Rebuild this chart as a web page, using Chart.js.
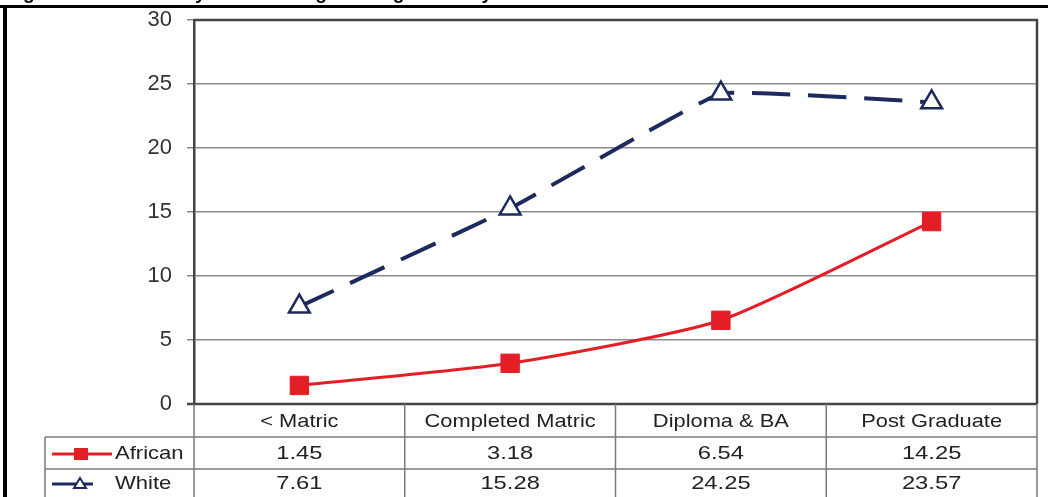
<!DOCTYPE html>
<html>
<head>
<meta charset="utf-8">
<script src="https://cdn.jsdelivr.net/npm/chart.js@4/dist/chart.umd.min.js"></script>
<style>
html,body{margin:0;padding:0;background:#fff;}
#wrap{width:1048px;height:497px;position:relative;}
</style>
</head>
<body>
<div id="wrap"><canvas id="c" width="1048" height="497"></canvas></div>
<script>
const titleText = "Figure 3: Mean Hourly Real Earnings in Wage Jobs by Education and Race in South Africa: 2005";
const categories = ["< Matric", "Completed Matric", "Diploma & BA", "Post Graduate"];
const seriesNames = ["African", "White"];
const africanValues = [1.45, 3.18, 6.54, 14.25];
const whiteValues = [7.61, 15.28, 24.25, 23.57];
const yTicks = [0, 5, 10, 15, 20, 25, 30];

const RED = '#e41e26';
const NAVY = '#1c2a5e';
const FONT = "'Liberation Sans', Arial, Helvetica, sans-serif";

function stretchedText(ctx, text, cx, cy, sx, size, align) {
  ctx.save();
  ctx.translate(cx, cy);
  ctx.scale(sx, 1);
  ctx.font = size + 'px ' + FONT;
  ctx.textAlign = align || 'center';
  ctx.textBaseline = 'middle';
  ctx.fillText(text, 0, 0);
  ctx.restore();
}

const framePlugin = {
  id: 'framePlugin',
  beforeDraw(chart) {
    const ctx = chart.ctx;
    ctx.save();
    ctx.fillStyle = '#fff';
    ctx.fillRect(0, 0, chart.width, chart.height);
    ctx.restore();
  },
  afterDraw(chart) {
    const ctx = chart.ctx;
    const a = chart.chartArea;
    const xs = chart.scales.x;
    const n = categories.length;
    const colW = (a.right - a.left) / n;
    const rowTop = a.bottom;
    const row1 = rowTop + 33;
    const row2 = row1 + 32;
    const tableBottom = chart.height + 2;
    const legendLeft = 45;

    ctx.save();
    // title (cut off at the top)
    ctx.fillStyle = '#000';
    ctx.font = 'bold 19px ' + FONT;
    ctx.textAlign = 'left';
    ctx.textBaseline = 'alphabetic';
    ctx.fillText(titleText, 6, -1);

    // outer frame
    ctx.fillStyle = '#000';
    ctx.fillRect(0, 5, chart.width, 3);
    ctx.fillRect(3, 5, 4, chart.height);

    // plot frame
    ctx.strokeStyle = '#444';
    ctx.lineWidth = 2.5;
    ctx.beginPath();
    ctx.moveTo(a.left, a.top);
    ctx.lineTo(a.right, a.top);
    ctx.lineTo(a.right, a.bottom);
    ctx.moveTo(a.left - 7, a.bottom);
    ctx.lineTo(a.right, a.bottom);
    ctx.stroke();

    // table grid
    ctx.strokeStyle = '#7a7a7a';
    ctx.lineWidth = 1.5;
    ctx.beginPath();
    for (let i = 0; i <= n; i++) {
      const x = a.left + i * colW;
      ctx.moveTo(x, rowTop);
      ctx.lineTo(x, tableBottom);
    }
    ctx.moveTo(legendLeft, row1);
    ctx.lineTo(legendLeft, tableBottom);
    ctx.moveTo(legendLeft, row1);
    ctx.lineTo(a.right, row1);
    ctx.moveTo(legendLeft, row2);
    ctx.lineTo(a.right, row2);
    ctx.stroke();

    // header labels
    ctx.fillStyle = '#222';
    categories.forEach((c, i) => {
      const cx = xs.getPixelForValue(i);
      stretchedText(ctx, c, cx, (rowTop + row1) / 2 + 1, 1.15, 19);
    });
    // values
    const rows = [africanValues, whiteValues];
    const rowMid = [(row1 + row2) / 2 + 1, row2 + 15];
    rows.forEach((vals, r) => {
      vals.forEach((v, i) => {
        const cx = xs.getPixelForValue(i);
        stretchedText(ctx, v.toFixed(2), cx, rowMid[r], 1.25, 19);
      });
    });

    // legend keys
    chart.data.datasets.forEach((ds, r) => {
      const y = rowMid[r];
      ctx.save();
      ctx.strokeStyle = ds.borderColor;
      ctx.lineWidth = 3;
      ctx.beginPath();
      ctx.moveTo(52, y);
      ctx.lineTo(r === 0 ? 112 : 93, y);
      ctx.stroke();
      ctx.restore();
      ctx.save();
      ctx.fillStyle = ds.pointBackgroundColor;
      ctx.strokeStyle = ds.pointBorderColor;
      ctx.lineWidth = 2;
      if (r === 0) {
        ctx.fillRect(74, y - 6, 14, 12);
      } else {
        ctx.beginPath();
        ctx.moveTo(80, y - 6);
        ctx.lineTo(86, y + 4);
        ctx.lineTo(74, y + 4);
        ctx.closePath();
        ctx.fill();
        ctx.stroke();
      }
      ctx.restore();
      ctx.fillStyle = '#222';
      stretchedText(ctx, ds.label, 115, y, 1.16, 19, 'left');
    });
    ctx.restore();
  }
};

new Chart(document.getElementById('c'), {
  type: 'line',
  data: {
    labels: categories,
    datasets: [
      {
        label: seriesNames[0],
        data: africanValues,
        borderColor: RED,
        backgroundColor: RED,
        borderWidth: 3,
        tension: 0.2,
        pointStyle: 'rect',
        pointRadius: 13,
        pointHoverRadius: 13,
        pointBackgroundColor: RED,
        pointBorderColor: RED,
        pointBorderWidth: 1
      },
      {
        label: seriesNames[1],
        data: whiteValues,
        borderColor: NAVY,
        backgroundColor: NAVY,
        borderWidth: 4,
        borderDash: [38, 18],
        tension: 0.08,
        pointStyle: 'triangle',
        pointRadius: 12,
        pointHoverRadius: 12,
        pointBackgroundColor: '#fff',
        pointBorderColor: NAVY,
        pointBorderWidth: 2.5
      }
    ]
  },
  options: {
    responsive: false,
    animation: false,
    devicePixelRatio: 1,
    layout: { autoPadding: false, padding: { left: 0, top: 20, right: 11, bottom: 93 } },
    plugins: {
      legend: { display: false },
      title: { display: false },
      tooltip: { enabled: false }
    },
    scales: {
      x: {
        type: 'category',
        display: false,
        offset: true
      },
      y: {
        min: yTicks[0],
        max: yTicks[yTicks.length - 1],
        afterFit(scale) {
          scale.width = 194;
          scale.paddingTop = 0;
          scale.paddingBottom = 0;
        },
        afterBuildTicks(scale) { scale.ticks = yTicks.map(v => ({ value: v })); },
        ticks: {
          stepSize: 5,
          color: '#333',
          padding: 15,
          font: { family: FONT, size: 22 }
        },
        grid: {
          color: '#8c8c8c',
          lineWidth: 1.5,
          tickLength: 7,
          drawTicks: true
        },
        border: { display: true, color: '#444', width: 2.5 }
      }
    }
  },
  plugins: [framePlugin]
});
</script>
</body>
</html>
